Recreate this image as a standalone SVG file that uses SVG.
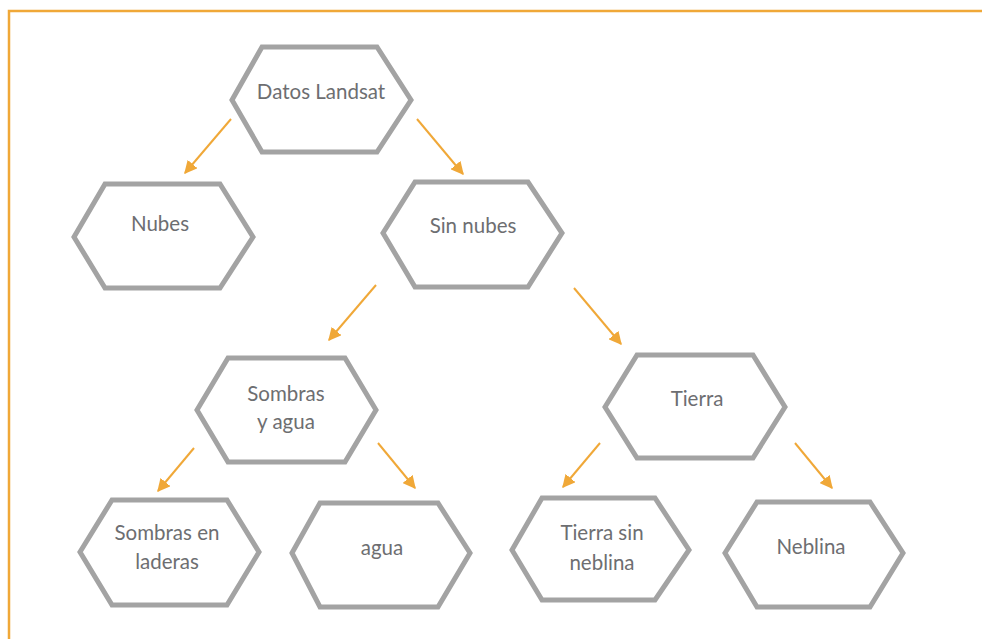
<svg xmlns="http://www.w3.org/2000/svg" width="982" height="639" viewBox="0 0 982 639">
<style>
.hex{fill:#ffffff;stroke:#a3a3a3;stroke-width:5;stroke-linejoin:miter}
.lbl{font-family:Lato,"Open Sans","Liberation Sans",sans-serif;font-size:20.5px;fill:#6d6e71;text-anchor:middle}
.arr{stroke:#f0a838;stroke-width:2;fill:none;marker-end:url(#ah)}
</style>
<defs>
<marker id="ah" viewBox="0 0 10 10" refX="9" refY="5" markerWidth="6.5" markerHeight="6.5" markerUnits="strokeWidth" orient="auto">
<path d="M0,0 L10,5 L0,10 z" fill="#f0a838"/>
</marker>
</defs>
<rect width="982" height="639" fill="#ffffff"/>
<path d="M9,639 V11 H982" fill="none" stroke="#f0a838" stroke-width="2.5"/>
<g id="connectors">
<line class="arr" x1="231" y1="119" x2="185" y2="173"/>
<line class="arr" x1="417" y1="119" x2="463" y2="174"/>
<line class="arr" x1="376" y1="285" x2="329" y2="340"/>
<line class="arr" x1="574" y1="288" x2="621" y2="344"/>
<line class="arr" x1="194" y1="448" x2="158" y2="491"/>
<line class="arr" x1="378" y1="443" x2="415" y2="488"/>
<line class="arr" x1="600" y1="443" x2="563" y2="487"/>
<line class="arr" x1="795" y1="443" x2="832" y2="488"/>
</g>
<g id="datos-landsat">
<polygon class="hex" points="232,100 262,47 377,47 411,100 377,152 262,152"/>
<text class="lbl" x="321" y="99">Datos Landsat</text>
</g>
<g id="nubes">
<polygon class="hex" points="74,237 105,184 220,184 253,237 220,288 105,288"/>
<text class="lbl" x="160" y="231">Nubes</text>
</g>
<g id="sin-nubes">
<polygon class="hex" points="383,233 415,182 528,182 562,233 528,287 415,287"/>
<text class="lbl" x="473" y="233">Sin nubes</text>
</g>
<g id="sombras-y-agua">
<polygon class="hex" points="197,410 228,358 345,358 376,410 345,462 228,462"/>
<text class="lbl" x="286" y="401">Sombras</text>
<text class="lbl" x="286" y="429">y agua</text>
</g>
<g id="tierra">
<polygon class="hex" points="605,407 637,355 753,355 785,407 753,458 637,458"/>
<text class="lbl" x="697" y="406">Tierra</text>
</g>
<g id="sombras-en-laderas">
<polygon class="hex" points="80,552 112,500 227,500 259,552 227,605 112,605"/>
<text class="lbl" x="167" y="540">Sombras en</text>
<text class="lbl" x="167" y="569">laderas</text>
</g>
<g id="agua">
<polygon class="hex" points="292,553 320,503 438,503 470,553 438,607 320,607"/>
<text class="lbl" x="382" y="555">agua</text>
</g>
<g id="tierra-sin-neblina">
<polygon class="hex" points="512,550 542,498 655,498 689,550 655,600 542,600"/>
<text class="lbl" x="602" y="540">Tierra sin</text>
<text class="lbl" x="602" y="570">neblina</text>
</g>
<g id="neblina">
<polygon class="hex" points="725,553 757,502 870,502 903,553 870,607 757,607"/>
<text class="lbl" x="811" y="554">Neblina</text>
</g>
</svg>
